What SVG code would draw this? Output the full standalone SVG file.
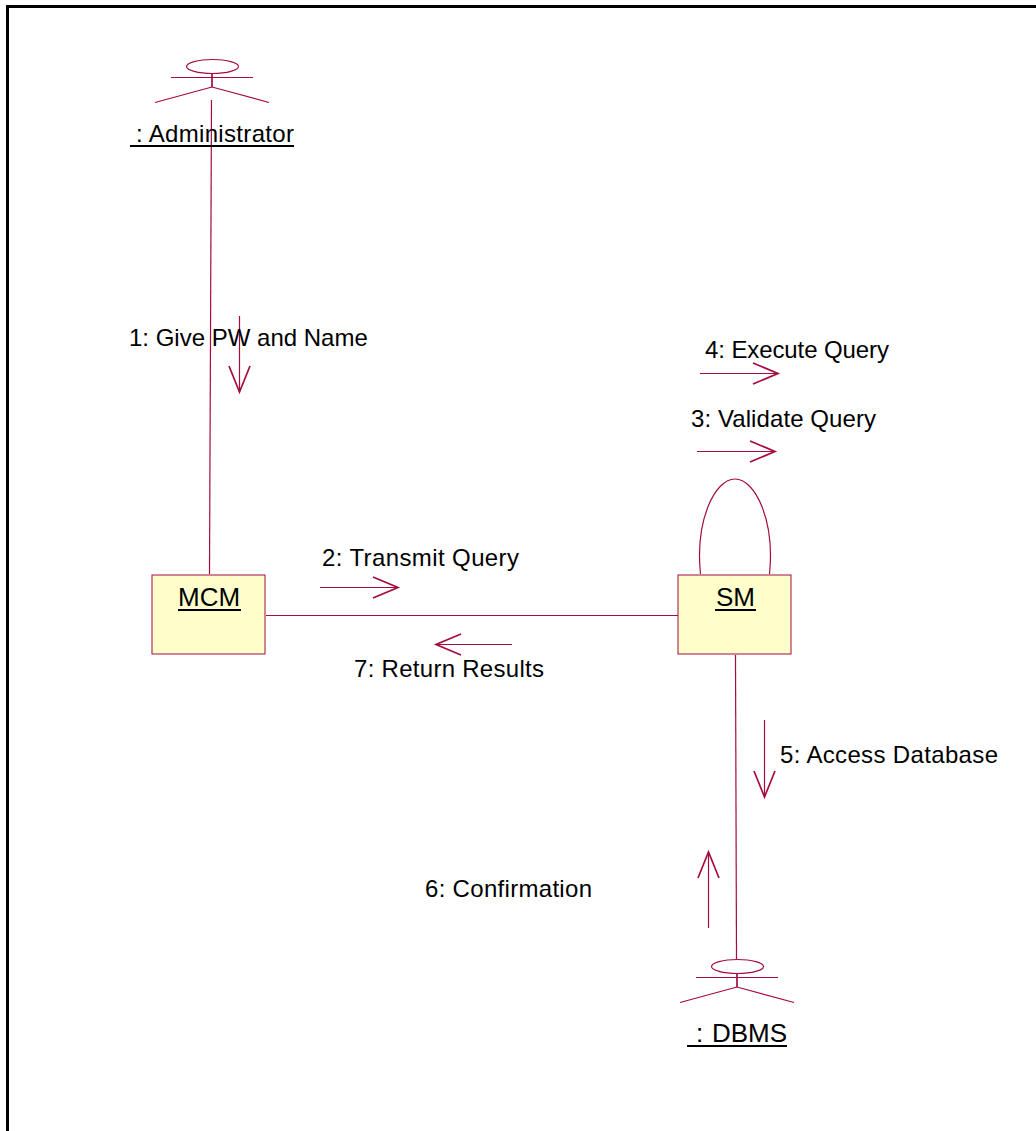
<svg xmlns="http://www.w3.org/2000/svg" width="1036" height="1131" viewBox="0 0 1036 1131">
<style>
.t{font-family:"Liberation Sans",Arial,sans-serif;font-size:24px;fill:#000}
.n{font-size:26px}
.l{stroke:#a50b41;stroke-width:1.2;fill:none}
.h{stroke:#a50b41;stroke-width:1.7;fill:none}
.box{fill:#ffffcb;stroke:#a50b41;stroke-width:1}
.u{stroke:#000;stroke-width:2}
</style>
<rect width="1036" height="1131" fill="#fff"/>
<path d="M7.500 1131V6.500H1036" fill="none" stroke="#000" stroke-width="3"/>
<g id="connectors">
<path class="l" d="M211.500 100L209.500 574"/>
<path class="l" d="M266 615.500H678"/>
<path class="l" d="M735.500 655L736.500 959"/>
<path class="l" d="M700.500 574C695 520 715 479 735 479C755 479 775 520 769.500 574"/>
<path class="l" d="M239.500 316V392"/><path class="h" d="M229 366L239.500 392L250 366"/>
<path class="l" d="M320 587.500H398"/><path class="h" d="M373 577L398 587.500L373 598"/>
<path class="l" d="M512 644.500H436"/><path class="h" d="M461 634L436 644.500L461 655"/>
<path class="l" d="M700 373.500H778"/><path class="h" d="M753 363L778 373.500L753 384"/>
<path class="l" d="M697 451.500H775"/><path class="h" d="M750 441L775 451.500L750 462"/>
<path class="l" d="M764.500 720V797"/><path class="h" d="M754 771L764.500 797L775 771"/>
<path class="l" d="M708.500 928V852"/><path class="h" d="M698 878L708.500 852L719 878"/>
</g>
<g id="administrator">
<ellipse class="l" cx="212.500" cy="66.500" rx="26" ry="7"/>
<path class="l" d="M171 77.500H253M212 87L155 102.500M212 87L269 102.500"/>
<path class="h" d="M212 73V87"/>
<text class="t" x="136" y="142" textLength="158">: Administrator</text>
<path class="u" d="M130 146H294"/>
</g>
<g id="mcm">
<rect class="box" x="152" y="575" width="113" height="79"/>
<text class="t n" x="178" y="606">MCM</text>
<path class="u" d="M178 610H241"/>
</g>
<g id="sm">
<rect class="box" x="678" y="575" width="113" height="79"/>
<text class="t n" x="716" y="606">SM</text>
<path class="u" d="M715 610H756"/>
</g>
<g id="dbms">
<ellipse class="l" cx="737.500" cy="966.500" rx="26" ry="7"/>
<path class="l" d="M696 977.500H778M737 987L680 1002.500M737 987L794 1002.500"/>
<path class="h" d="M737 973V987"/>
<text class="t n" x="696" y="1042">: <tspan x="712">DBMS</tspan></text>
<path class="u" d="M687 1046H787"/>
</g>
<g id="labels">
<text class="t" x="129" y="346">1: Give PW and Name</text>
<text class="t" x="322" y="566" textLength="197">2: Transmit Query</text>
<text class="t" x="691" y="427" textLength="185">3: Validate Query</text>
<text class="t" x="705" y="358" textLength="184">4: Execute Query</text>
<text class="t" x="780" y="763" textLength="218">5: Access Database</text>
<text class="t" x="425" y="897" textLength="167">6: Confirmation</text>
<text class="t" x="354" y="677" textLength="190">7: Return Results</text>
</g>
</svg>
